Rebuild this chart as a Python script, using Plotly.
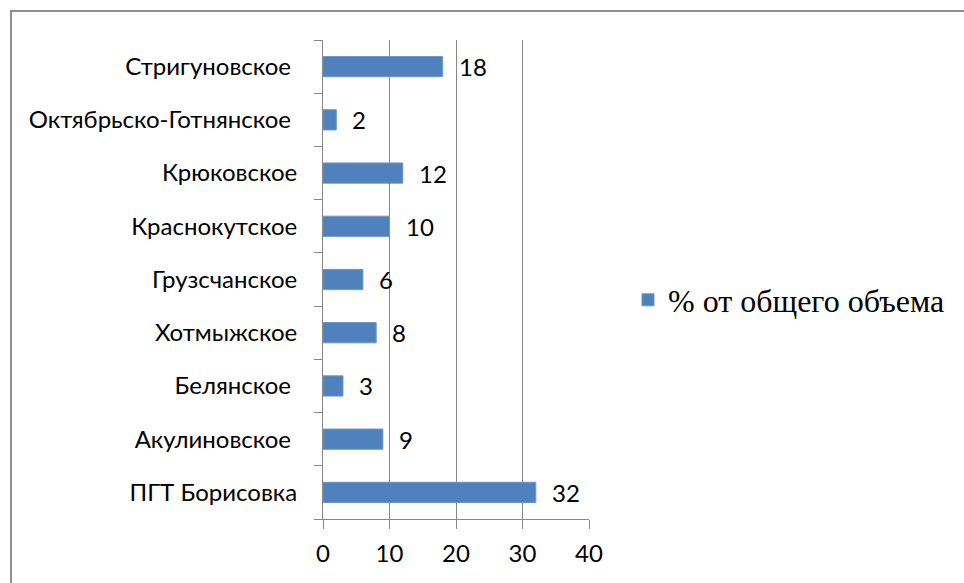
import plotly.graph_objects as go

categories = ["ПГТ Борисовка", "Акулиновское\u00a0", "Белянское\u00a0", "Хотмыжское", "Грузсчанское",
              "Краснокутское", "Крюковское", "Октябрьско-Готнянское\u00a0", "Стригуновское\u00a0"]
values = [32, 9, 3, 8, 6, 10, 12, 2, 18]
series_name = "% от общего объема"
x_ticks = [0, 10, 20, 30, 40]

W, H = 964, 583
L, R, T, B = 323, 589, 40, 519
pw, ph = R - L, B - T

def px(x):
    return (x - L) / pw

def py(y):
    return (B - y) / ph

fig = go.Figure()
fig.add_trace(go.Bar(
    y=categories, x=values, orientation="h", name=series_name,
    marker=dict(color="#4F81BD", line=dict(color="#6C95C9", width=1)),
    showlegend=True,
))

for c, v in zip(categories, values):
    fig.add_annotation(x=v, y=c, text=str(v), showarrow=False, xanchor="left",
                       xshift=14, font=dict(family="Lato", size=24, color="#000000"))

grid = "#878787"
fig.update_layout(
    width=W, height=H,
    margin=dict(l=L, r=W - R, t=T, b=H - B, pad=0),
    paper_bgcolor="white", plot_bgcolor="white",
    bargap=0.62,
    font=dict(family="Lato", size=24, color="#000000"),
    xaxis=dict(range=[0, 40], tickvals=x_ticks, showgrid=True, gridcolor=grid, gridwidth=1,
               showline=True, linecolor=grid, linewidth=1, ticks="outside", ticklen=9,
               tickcolor=grid, tickwidth=1, zeroline=False, ticklabelstandoff=4,
               tickfont=dict(family="Lato", size=24)),
    yaxis=dict(showline=True, linecolor=grid, linewidth=1, ticks="outside", ticklen=8,
               tickcolor=grid, tickwidth=1, tickson="boundaries", showgrid=False,
               ticklabelstandoff=20, tickfont=dict(family="Lato", size=24)),
    legend=dict(x=px(628), y=py(300), xanchor="left", yanchor="middle",
                font=dict(family="Liberation Serif", size=32, color="#000000"),
                bgcolor="rgba(0,0,0,0)"),
    shapes=[dict(type="rect", xref="paper", yref="paper",
                 x0=px(11), x1=px(990), y0=py(11), y1=py(600),
                 line=dict(color="#8E8E8E", width=2), fillcolor="rgba(0,0,0,0)", layer="below")],
)

fig.write_html("out.html", config={"displayModeBar": False},
               post_script="document.body.style.margin='0';document.body.style.overflow='hidden';")
